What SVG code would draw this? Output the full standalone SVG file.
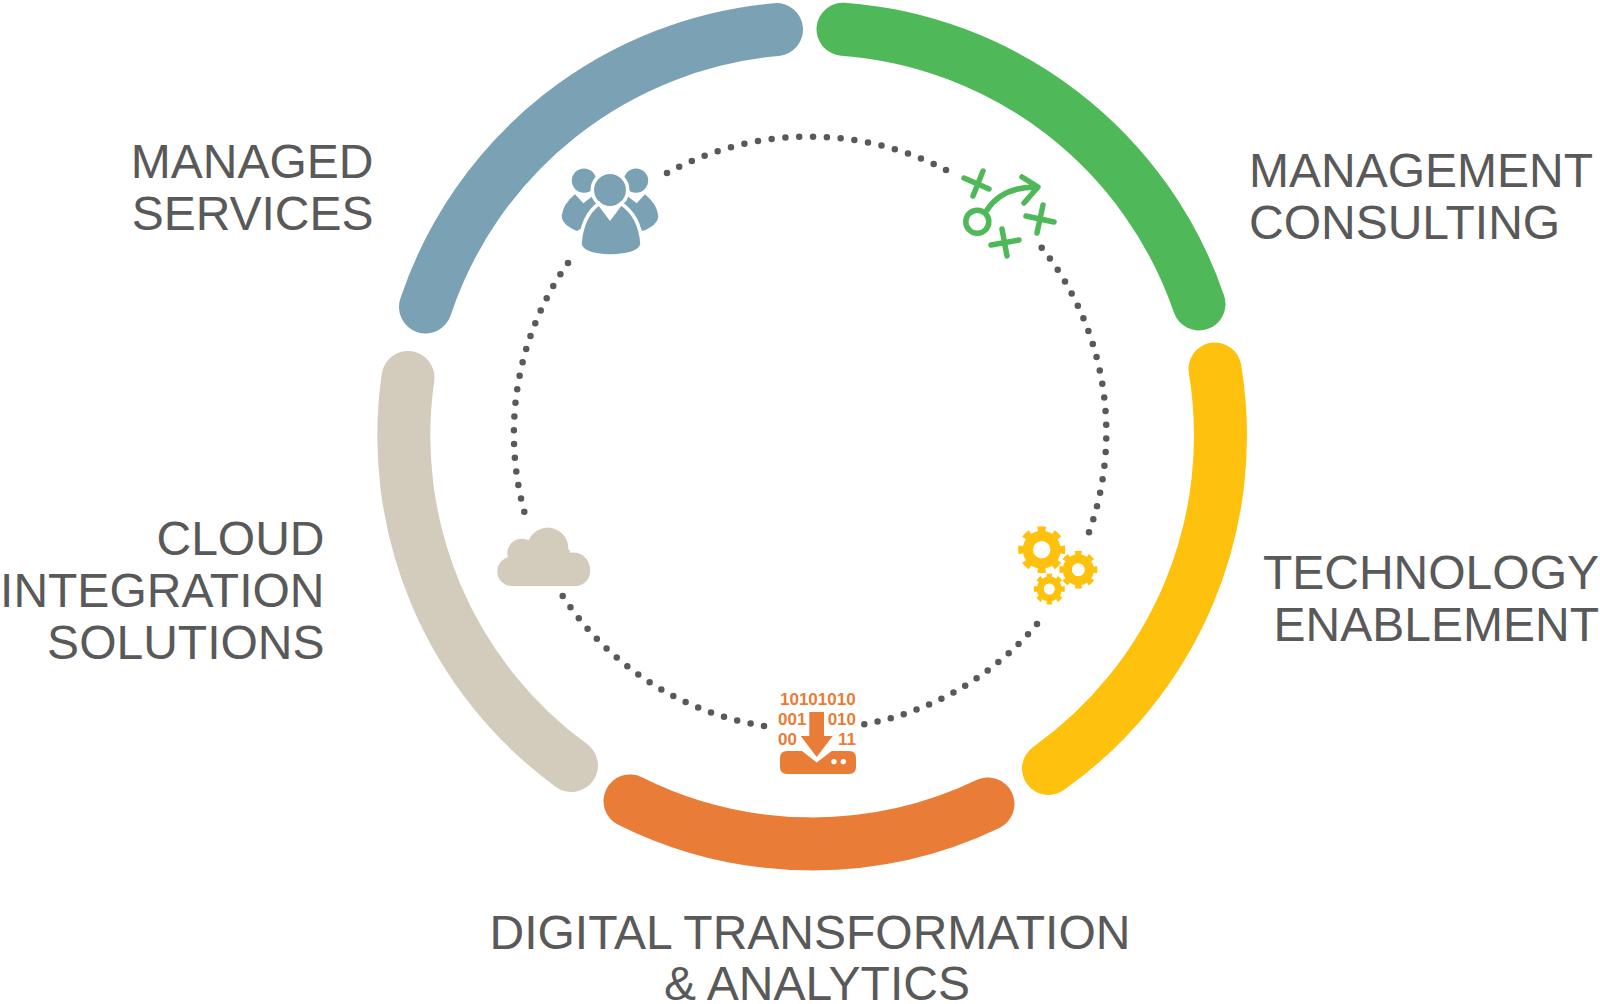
<svg xmlns="http://www.w3.org/2000/svg" width="1600" height="1004" viewBox="0 0 1600 1004">
<style>
.arc{fill:none;stroke-width:53;stroke-linecap:round}
.dots{fill:none;stroke:#595959;stroke-width:6.500;stroke-linecap:round;stroke-dasharray:0 1}
.lbl{font-family:"Liberation Sans",Arial,sans-serif;font-size:48px;fill:#595959}
.end{text-anchor:end}
.mid{text-anchor:middle}
.bits{font-family:"Liberation Sans",Arial,sans-serif;font-size:17px;font-weight:700;fill:#e97c37}
.play{fill:none;stroke:#4fb858;stroke-width:5.500;stroke-linecap:round;stroke-linejoin:round}
</style>
<rect width="1600" height="1004" fill="#fff"/>
<g id="connectors">
<path class="dots" pathLength="21.001" d="M667 173A296.500 296.500 0 0 1 946 170"/>
<path class="dots" pathLength="22.001" d="M1041.700 247.700A296.500 296.500 0 0 1 1089 532.300"/>
<path class="dots" pathLength="15.001" d="M1037 624A296.500 296.500 0 0 1 864.300 724.300"/>
<path class="dots" pathLength="18.001" d="M764 726A296.500 296.500 0 0 1 562.700 596"/>
<path class="dots" pathLength="19.001" d="M524.300 511.700A296.500 296.500 0 0 1 568 263"/>
</g>
<g id="managed-services">
<path class="arc" style="stroke:#7ba1b5" d="M425.500 307A408 408 0 0 1 776.500 29.600"/>
<g fill="#7ba1b5">
<circle cx="584" cy="180.600" r="12.200"/><circle cx="636" cy="180.600" r="12.200"/>
<path d="M575 194.300L583.300 203.300L591.700 196.700L606 214L577 231Q562 225 561.700 216Q563 204 575 194.300Z"/>
<path d="M645 194.300L636.700 203.300L628.300 196.700L614 214L643 231Q658 225 658.300 216Q657 204 645 194.300Z"/>
<g stroke="#fff" stroke-width="3.500">
<circle cx="610" cy="190" r="17.700"/>
<path d="M599 203.500L610 218L621 203.500Q640 216 642 244Q640 255 610 256Q582 255 580 244Q582 216 599 203.500Z"/>
</g>
</g>
</g>
<g id="management-consulting">
<path class="arc" style="stroke:#4fb858" d="M843 29.200A408 408 0 0 1 1199 304"/>
<g class="play">
<circle cx="977.300" cy="221.700" r="11.500"/>
<path d="M987 210Q1002 187 1036 187M1022 177L1038 187L1024 203"/>
<path d="M964 178L989 189M983 171L973 196"/>
<path d="M1026 216L1054 222M1043 205L1037 233"/>
<path d="M991 245L1019 240M1002 229L1007 256"/>
</g>
</g>
<g id="technology-enablement">
<path class="arc" style="stroke:#fec10d" d="M1215 369A408 408 0 0 1 1048.500 768.500"/>
<g fill="#fec10d" stroke="#fec10d">
<circle cx="1041.700" cy="549.700" r="19" stroke="none"/><circle cx="1041.700" cy="549.700" r="20.500" fill="none" stroke-width="6" pathLength="16" stroke-dasharray="1 1" stroke-dashoffset="0.500"/>
<circle cx="1078.300" cy="569.700" r="15.500" stroke="none"/><circle cx="1078.300" cy="569.700" r="16.500" fill="none" stroke-width="5" pathLength="16" stroke-dasharray="1 1" stroke-dashoffset="0.500"/>
<circle cx="1049.300" cy="589" r="12.500" stroke="none"/><circle cx="1049.300" cy="589" r="13.500" fill="none" stroke-width="4" pathLength="16" stroke-dasharray="1 1" stroke-dashoffset="0.500"/>
</g>
<g fill="#fff"><circle cx="1041.700" cy="549.700" r="8.700"/><circle cx="1078.300" cy="569.700" r="6.500"/><circle cx="1049.300" cy="589" r="5.500"/></g>
</g>
<g id="digital-transformation">
<path class="arc" style="stroke:#e97c37" d="M988 804A408 408 0 0 1 630 801"/>
<text class="bits" x="780" y="705">10101010</text>
<text class="bits" x="778" y="725">001</text>
<text class="bits end" x="856" y="725">010</text>
<text class="bits" x="778" y="745">00</text>
<text class="bits end" x="856" y="745">11</text>
<path fill="#e97c37" d="M809.300 712H824V736H832.700L816.700 757L800.700 736H809.300Z"/>
<path fill="#e97c37" d="M787 751H802L816.700 762.500L831.700 751H849Q856 751 856 758V767Q856 774 849 774H787Q780 774 780 767V758Q780 751 787 751Z"/>
<circle cx="834" cy="761.700" r="2.700" fill="#fff"/><circle cx="843.300" cy="761.700" r="2.700" fill="#fff"/>
</g>
<g id="cloud-integration">
<path class="arc" style="stroke:#d3ccbc" d="M571.500 765.500A408 408 0 0 1 408 377.500"/>
<g fill="#d3ccbc">
<circle cx="547.700" cy="548.300" r="20.700"/><circle cx="521.700" cy="553.300" r="14.500"/>
<rect x="497.300" y="556.700" width="92.700" height="29.300" rx="14.600"/>
<circle cx="573.300" cy="569.300" r="16.700"/>
<rect x="520" y="550" width="50" height="20"/>
</g>
</g>
<g id="labels">
<text class="lbl end" x="373.500" y="178">MANAGED</text>
<text class="lbl end" x="373.500" y="230">SERVICES</text>
<text class="lbl" x="1249" y="187">MANAGEMENT</text>
<text class="lbl" x="1249" y="239">CONSULTING</text>
<text class="lbl end" x="1599" y="589">TECHNOLOGY</text>
<text class="lbl end" x="1599" y="641">ENABLEMENT</text>
<text class="lbl end" x="324.500" y="554.500">CLOUD</text>
<text class="lbl end" x="324.500" y="606.500">INTEGRATION</text>
<text class="lbl end" x="324.500" y="658.500">SOLUTIONS</text>
<text class="lbl mid" x="810" y="949">DIGITAL TRANSFORMATION</text>
<text class="lbl mid" x="817" y="1000">&amp; ANALYTICS</text>
</g>
</svg>
